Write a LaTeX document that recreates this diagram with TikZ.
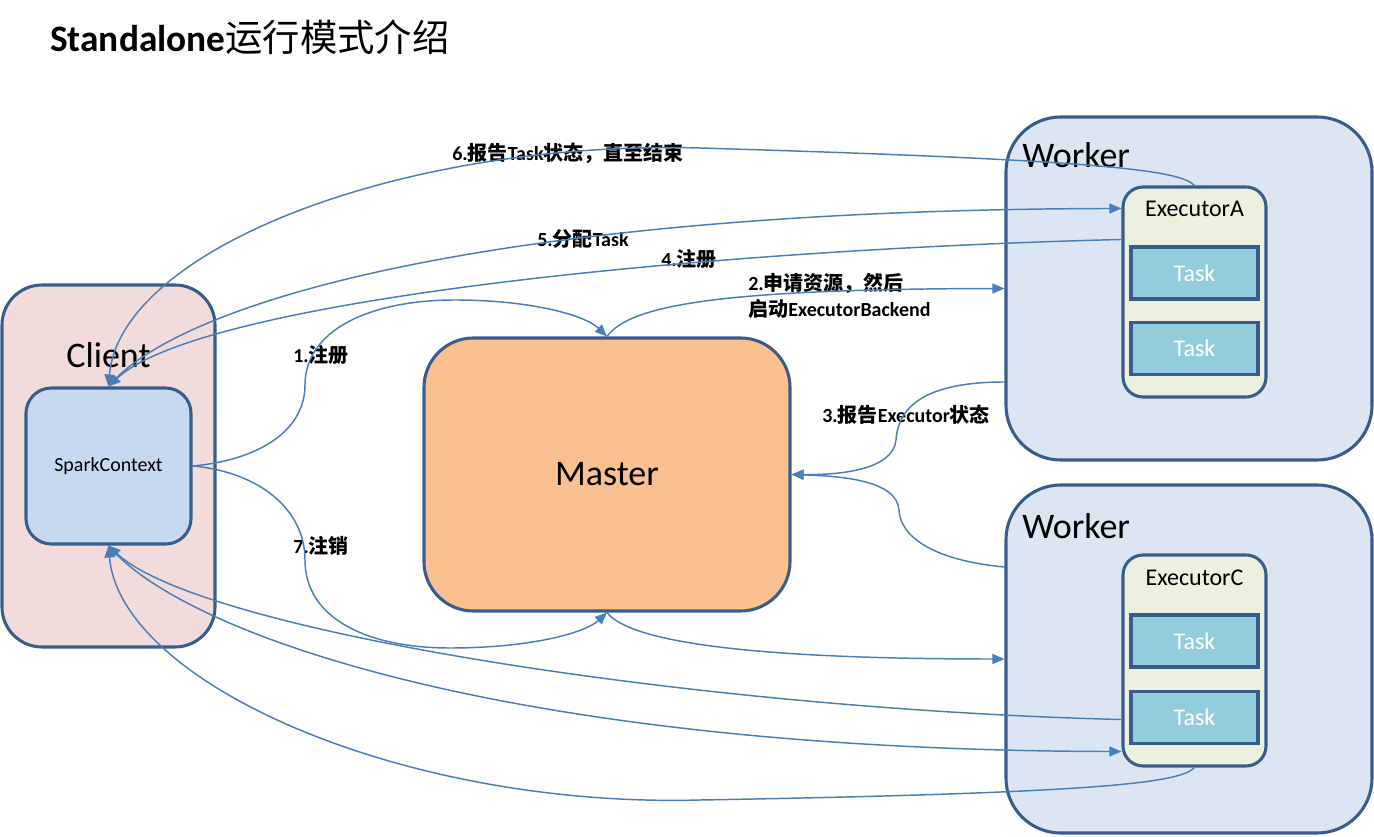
\documentclass[tikz,border=0pt]{standalone}
\usepackage{fontspec}
\setmainfont{Carlito}
\newfontfamily\cjk{Noto Sans CJK SC}
\usetikzlibrary{arrows.meta,positioning,calc}
\definecolor{FrameBlue}{RGB}{56,93,138}
\definecolor{ClientPink}{RGB}{242,220,219}
\definecolor{SparkBlue}{RGB}{198,217,241}
\definecolor{MasterOrange}{RGB}{250,192,144}
\definecolor{WorkerBlue}{RGB}{220,230,242}
\definecolor{ExecGreen}{RGB}{235,241,222}
\definecolor{TaskCyan}{RGB}{147,205,221}
\definecolor{FlowBlue}{RGB}{74,126,187}
\newcommand\zh[1]{{\cjk #1}}
\tikzset{
  box/.style={draw=FrameBlue, line width=2.3pt, inner sep=0pt},
  bigtext/.style={font=\fontsize{27}{32}\selectfont, inner sep=0pt},
  exectext/.style={font=\fontsize{18}{22}\selectfont, inner sep=0pt, anchor=base},
  taskbox/.style={box, fill=TaskCyan, minimum width=127*0.75pt, minimum height=52*0.75pt,
    text=white, font=\fontsize{18}{22}\selectfont},
  flowlabel/.style={font=\bfseries\fontsize{15}{18}\selectfont, anchor=base west, inner sep=0pt},
  flow/.style={draw=FlowBlue, line width=1.1pt, -{Triangle[length=9pt,width=7.5pt]}}
}
\begin{document}
\begin{tikzpicture}[x=0.75pt, y=-0.75pt]
  \useasboundingbox (0,0) rectangle (1374,837);
  % title
  \node[anchor=base west, inner sep=0pt, font=\fontsize{28}{34}\selectfont] (title) at (50,52)
    {{\bfseries Standalone}\zh{运行模式介绍}};
  % client side
  \node[box, fill=ClientPink, rounded corners=30pt, minimum width=213*0.75pt, minimum height=362*0.75pt]
    (client) at (108.5,466) {};
  \node[bigtext, anchor=base] (clienttext) at (108.5,368) {Client};
  \node[box, fill=SparkBlue, rounded corners=19pt, minimum width=165*0.75pt, minimum height=156*0.75pt,
    font=\fontsize{15}{18}\selectfont] (spark) at (108.5,466) {SparkContext};
  % master
  \node[box, fill=MasterOrange, rounded corners=37pt, minimum width=366*0.75pt, minimum height=273*0.75pt,
    font=\fontsize{27}{32}\selectfont] (master) at (607,474.5) {Master};
  % worker A
  \node[box, fill=WorkerBlue, rounded corners=41pt, minimum width=366*0.75pt, minimum height=343*0.75pt]
    (wa) at (1189,288.5) {};
  \node[bigtext, anchor=base west] (watext) at (1022,168) {Worker};
  \node[box, fill=ExecGreen, rounded corners=15pt, minimum width=143*0.75pt, minimum height=210*0.75pt]
    (ea) at (1194.5,292) {};
  \node[exectext] (eatext) at (1194.5,217) {ExecutorA};
  \node[taskbox] (ta1) at (1194.5,273) {Task};
  \node[taskbox] (ta2) at (1194.5,348.5) {Task};
  % worker C
  \node[box, fill=WorkerBlue, rounded corners=41pt, minimum width=366*0.75pt, minimum height=348*0.75pt]
    (wc) at (1189,659) {};
  \node[bigtext, anchor=base west] (wctext) at (1022,538) {Worker};
  \node[box, fill=ExecGreen, rounded corners=15pt, minimum width=143*0.75pt, minimum height=211*0.75pt]
    (ec) at (1194.5,660.5) {};
  \node[exectext] (ectext) at (1194.5,585) {ExecutorC};
  \node[taskbox] (tc1) at (1194.5,641) {Task};
  \node[taskbox] (tc2) at (1194.5,717.5) {Task};
  % labels
  \node[flowlabel] (l6) at (452,161) {6.\zh{报告}Task\zh{状态，直至结束}};
  \node[flowlabel] (l5) at (537,247) {5.\zh{分配}Task};
  \node[flowlabel] (l4) at (661,267) {4.\zh{注册}};
  \node[flowlabel] (l2) at (748,291) {2.\zh{申请资源，然后}};
  \node[flowlabel] (l2b) at (748,317) {\zh{启动}ExecutorBackend};
  \node[flowlabel] (l1) at (293,363) {1.\zh{注册}};
  \node[flowlabel] (l3) at (822,423) {3.\zh{报告}Executor\zh{状态}};
  \node[flowlabel] (l7) at (293,553) {7.\zh{注销}};
  % 1 / 7
  \draw[flow] (spark.east) .. controls (260,460) and (305,430) .. (305,385)
    .. controls (305,330) and (370,300) .. (455,300) .. controls (530,300) and (585,315) .. (master.north);
  \draw[flow] (spark.east) .. controls (260,472) and (305,510) .. (305,560)
    .. controls (305,620) and (370,648) .. (450,648) .. controls (530,648) and (585,633) .. (master.south);
  % 2
  \draw[flow] (master.north) .. controls (630,305) and (720,289) .. (wa.west);
  \draw[flow] (master.south) .. controls (630,642) and (750,659) .. (wc.west);
  % 3
  \draw[flow] ($(wa.west)+(0,93.5)$) .. controls (920,382) and (898,410) .. (896,440)
    .. controls (893,470) and (840,475) .. (master.east);
  \draw[flow] ($(wc.west)+(0,-92)$) .. controls (930,560) and (900,535) .. (899,510)
    .. controls (897,480) and (840,476) .. (master.east);
  % 4
  \draw[flow] ($(ea.north west)+(0,54)$) .. controls (700,250) and (200,300) .. (spark.north);
  \draw[flow] ($(ec.south west)+(0,-48)$) .. controls (700,709) and (200,632) .. (spark.south);
  % 5
  \draw[flow] (spark.north) .. controls (180,300) and (500,210) .. ($(ea.north west)+(0,23)$);
  \draw[flow] (spark.south) .. controls (180,632) and (500,750) .. ($(ec.south west)+(0,-16)$);
  % 6
  \draw[flow] (ea.north) .. controls (1180,170) and (1100,160) .. (700,148)
    .. controls (400,140) and (120,250) .. (spark.north);
  \draw[flow] (ec.south) .. controls (1180,783) and (1100,793) .. (700,800)
    .. controls (400,808) and (120,682) .. (spark.south);
\end{tikzpicture}
\end{document}
